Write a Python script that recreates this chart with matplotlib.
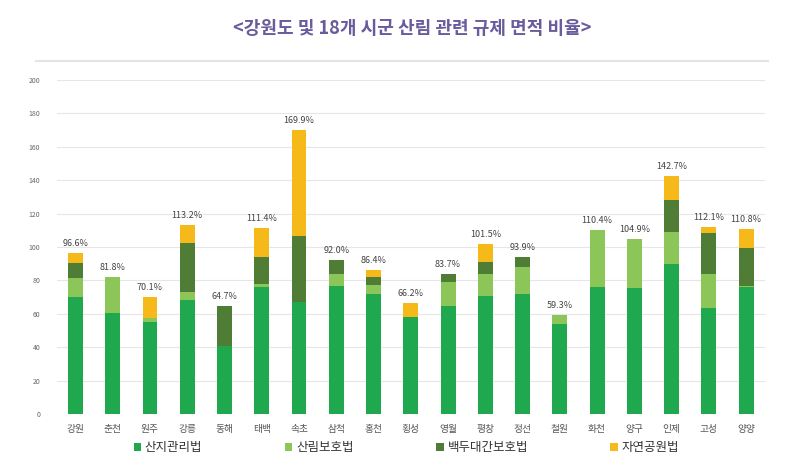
import numpy as np
import matplotlib.pyplot as plt
from matplotlib.lines import Line2D

plt.rcParams['font.family'] = ['Noto Sans CJK KR', 'DejaVu Sans']

regions = ['강원', '춘천', '원주', '강릉', '동해', '태백', '속초', '삼척', '홍천', '횡성',
           '영월', '평창', '정선', '철원', '화천', '양구', '인제', '고성', '양양']
sanji = [70.0, 60.3, 55.0, 68.3, 40.9, 75.9, 67.2, 76.6, 71.7, 58.3,
         64.7, 70.7, 71.9, 53.7, 75.9, 75.3, 89.8, 63.3, 75.9]
sanrim = [11.6, 21.5, 2.3, 4.9, 0.0, 1.8, 0.0, 7.0, 5.5, 0.0,
          14.6, 13.1, 16.3, 5.6, 34.5, 29.6, 19.0, 20.5, 1.0]
baekdu = [8.6, 0.0, 0.0, 29.0, 23.8, 16.5, 39.2, 8.4, 5.0, 0.0,
          4.4, 7.4, 5.7, 0.0, 0.0, 0.0, 19.1, 24.8, 22.3]
jayeon = [6.4, 0.0, 12.8, 11.0, 0.0, 17.2, 63.5, 0.0, 4.2, 7.9,
          0.0, 10.3, 0.0, 0.0, 0.0, 0.0, 14.8, 3.5, 11.6]
totals = ['96.6%', '81.8%', '70.1%', '113.2%', '64.7%', '111.4%', '169.9%', '92.0%', '86.4%', '66.2%',
          '83.7%', '101.5%', '93.9%', '59.3%', '110.4%', '104.9%', '142.7%', '112.1%', '110.8%']

series = [('산지관리법', sanji, '#1fa84d'),
          ('산림보호법', sanrim, '#8cc659'),
          ('백두대간보호법', baekdu, '#4f7d35'),
          ('자연공원법', jayeon, '#f6b91a')]

fig = plt.figure(figsize=(8, 4.74), dpi=100)
ax = fig.add_axes([0.071, 0.1266, 0.885, 0.7046])

x = np.arange(len(regions))
bottom = np.zeros(len(regions))
for name, vals, col in series:
    ax.bar(x, vals, 0.4, bottom=bottom, color=col, label=name, zorder=3)
    bottom += np.array(vals)

for xi, top, lab in zip(x, bottom, totals):
    ax.text(xi, top + 3, lab, ha='center', va='bottom', fontsize=6.5, color='#444444')

ax.set_xlim(-0.5, len(regions) - 0.5)
ax.set_ylim(0, 200)
ax.set_yticks(np.arange(0, 201, 20))
ax.tick_params(axis='y', labelsize=5, colors='#666666', length=0, pad=12)
ax.set_xticks(x)
ax.set_xticklabels(regions, fontsize=7, color='#555555')
ax.tick_params(axis='x', length=0, pad=7)
ax.grid(axis='y', color='#e6e6e6', linewidth=0.8, zorder=0)
for s in ax.spines.values():
    s.set_visible(False)

# chart border line at top
fig.add_artist(Line2D([0.045, 0.96], [0.871, 0.871], color='#e4e4e4', linewidth=1.5))

fig.text(0.515, 0.94, '<강원도 및 18개 시군 산림 관련 규제 면적 비율>', ha='center', va='center',
         fontsize=13, fontweight='bold', color='#6a5b9c')

handles, labels = ax.get_legend_handles_labels()
fig.legend(handles, labels, loc='center', bbox_to_anchor=(0.508, 0.056), ncol=4, frameon=False,
           fontsize=9, handlelength=0.6, handleheight=0.6, handletextpad=0.3,
           columnspacing=6.6, labelcolor='#333333')

fig.savefig('out.png', dpi=100)
